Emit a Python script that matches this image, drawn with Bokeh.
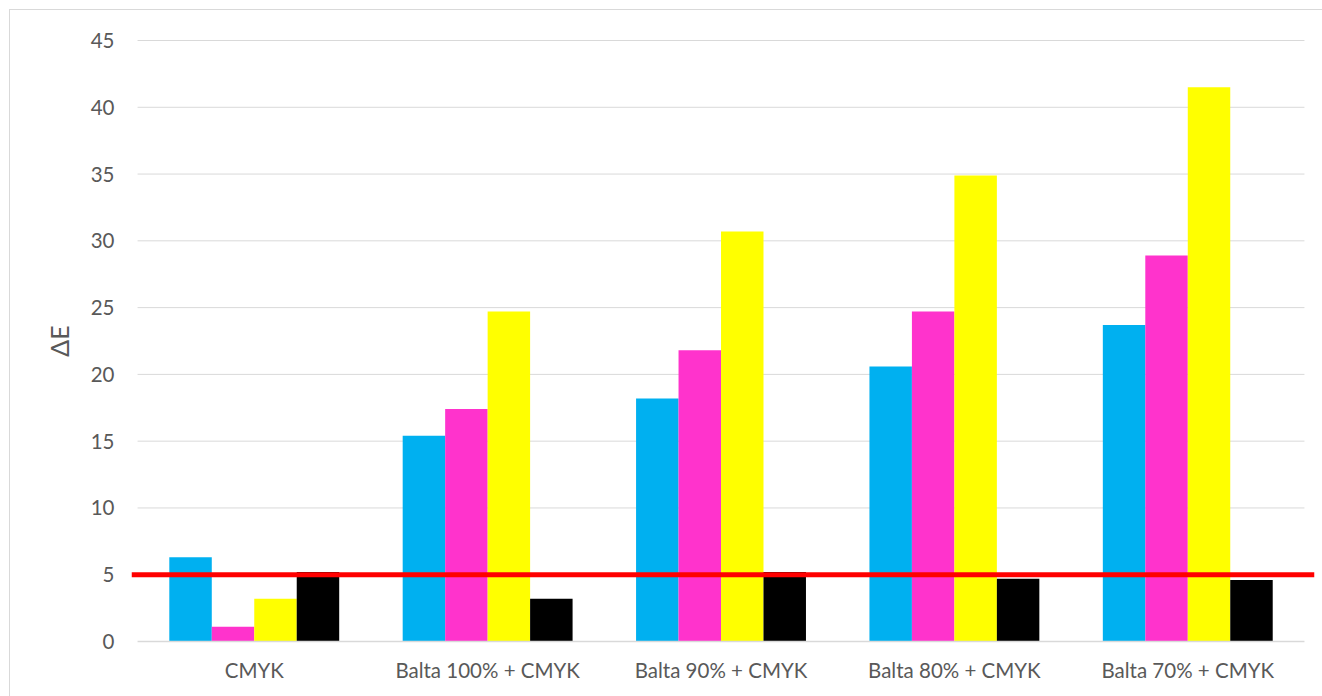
import numpy as np
from bokeh.plotting import figure
from bokeh.models import Range1d, FixedTicker
from bokeh.embed import file_html
from bokeh.resources import INLINE

# Colour-difference values per printing setup
categories = ["CMYK", "Balta 100% + CMYK", "Balta 90% + CMYK",
              "Balta 80% + CMYK", "Balta 70% + CMYK"]
cyan = [6.3, 15.4, 18.2, 20.6, 23.7]
magenta = [1.1, 17.4, 21.8, 24.7, 28.9]
yellow = [3.2, 24.7, 30.7, 34.9, 41.5]
black = [5.2, 3.2, 5.2, 4.7, 4.6]
threshold = 5
y_ticks = [0, 5, 10, 15, 20, 25, 30, 35, 40, 45]

series = [(cyan, "#00B0F0"), (magenta, "#FF33CC"),
          (yellow, "#FFFF00"), (black, "#000000")]

LABEL_COLOR = "#595959"
GRID_COLOR = "#D9D9D9"
FONT = "Lato"

n = len(categories)
centers = np.arange(n) + 0.5
bar_w = 0.182

p = figure(width=1313, height=687,
           x_range=Range1d(-0.026, n + 0.043),
           y_range=Range1d(-0.3, 45.3),
           output_backend="svg", toolbar_location=None,
           min_border_left=121, min_border_right=9,
           min_border_top=26, min_border_bottom=52)
p.margin = (9, 0, 0, 9)
p.styles = {"border-left": f"1px solid {GRID_COLOR}",
            "border-top": f"1px solid {GRID_COLOR}"}
p.outline_line_color = None
p.background_fill_color = "white"
p.border_fill_color = "white"

# horizontal gridlines across the category span
p.segment(x0=0, x1=n, y0=y_ticks[1:], y1=y_ticks[1:],
          line_color=GRID_COLOR, line_width=1)

k = len(series)
for i, (vals, col) in enumerate(series):
    offset = (i - (k - 1) / 2) * bar_w
    p.vbar(x=centers + offset, top=vals, bottom=0, width=bar_w,
           fill_color=col, line_color=None)

# baseline
p.segment(x0=0, x1=n, y0=y_ticks[0], y1=y_ticks[0],
          line_color=GRID_COLOR, line_width=1.5)

# threshold line
p.segment(x0=p.x_range.start, x1=p.x_range.end, y0=threshold, y1=threshold,
          line_color="#FF0000", line_width=5)

p.xgrid.visible = False
p.ygrid.visible = False

p.xaxis.ticker = FixedTicker(ticks=centers.tolist())
p.xaxis.major_label_overrides = {c: name for c, name in zip(centers.tolist(), categories)}
p.yaxis.ticker = FixedTicker(ticks=y_ticks)
p.yaxis.axis_label = "ΔE"

for ax in (p.xaxis[0], p.yaxis[0]):
    ax.axis_line_color = None
    ax.major_tick_line_color = None
    ax.minor_tick_line_color = None
    ax.major_tick_out = 0
    ax.minor_tick_out = 0
    ax.major_label_text_color = LABEL_COLOR
    ax.major_label_text_font = FONT
    ax.major_label_text_font_size = "20.5px"

p.xaxis.major_label_standoff = 12
p.yaxis.major_label_standoff = 17
p.yaxis.axis_label_text_font = FONT
p.yaxis.axis_label_text_font_size = "25px"
p.yaxis.axis_label_text_font_style = "normal"
p.yaxis.axis_label_text_color = LABEL_COLOR
p.yaxis.axis_label_standoff = 14

open("out.html", "w").write(file_html(p, INLINE))
